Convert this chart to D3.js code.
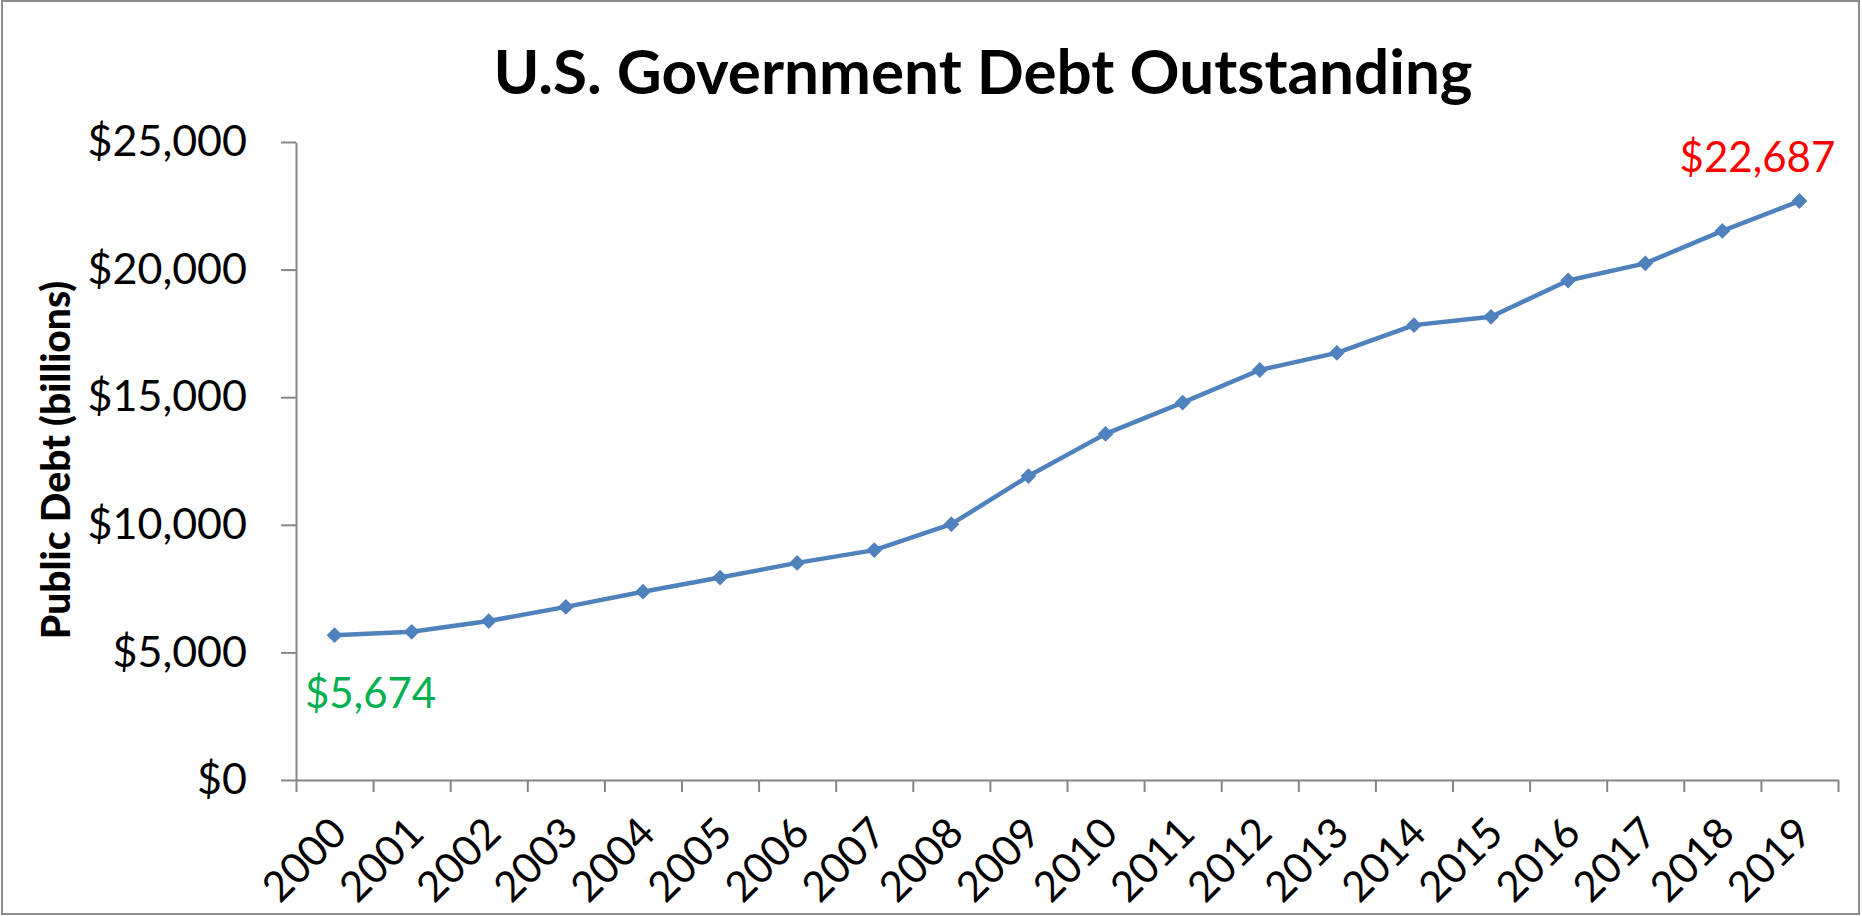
<!DOCTYPE html>
<html>
<head>
<meta charset="utf-8">
<script src="https://cdn.jsdelivr.net/npm/d3@7"></script>
<style>
  body { margin: 0; background: #fff; }
  text { font-family: Lato, "Open Sans", sans-serif; }
</style>
</head>
<body>
<div class="chart"></div>
<script>
let years = ['2000','2001','2002','2003','2004','2005','2006','2007','2008','2009',
             '2010','2011','2012','2013','2014','2015','2016','2017','2018','2019'];
let debt = [5674, 5807, 6228, 6783, 7379, 7933, 8507, 9008, 10025, 11910,
            13562, 14790, 16066, 16738, 17824, 18151, 19573, 20245, 21516, 22687];
let yTicks = [0, 5000, 10000, 15000, 20000, 25000];

let width = 1862;
let height = 916;
let plotLeft = 296, plotRight = 1838, plotTop = 142, plotBottom = 780;

let svg = d3.select('.chart')
            .append('svg')
            .attr('width', width)
            .attr('height', height);

// outer frame
svg.append('rect')
   .attr('x', 2).attr('y', 1)
   .attr('width', width - 5).attr('height', height - 3)
   .attr('fill', '#fff')
   .attr('stroke', '#8c8c8c')
   .attr('stroke-width', 2);

let x = d3.scaleBand().domain(years).range([plotLeft, plotRight]);
let xEdge = d3.scaleLinear().domain([0, years.length]).range([plotLeft, plotRight]);
let y = d3.scaleLinear().domain([0, 25000]).range([plotBottom, plotTop]);
let money = d => '$' + d3.format(',')(d);

svg.append('text')
   .attr('x', 983).attr('y', 94)
   .attr('text-anchor', 'middle')
   .style('font-size', '62px')
   .style('font-weight', 'bold')
   .text('U.S. Government Debt Outstanding');

svg.append('text')
   .attr('transform', 'translate(70,460) rotate(-90)')
   .attr('text-anchor', 'middle')
   .style('font-size', '39px')
   .style('font-weight', '900')
   .text('Public Debt (billions)');

// y axis
let yAxis = svg.append('g')
   .attr('transform', 'translate(' + plotLeft + ',0)')
   .call(d3.axisLeft(y).tickValues(yTicks).tickSize(15).tickSizeOuter(0)
          .tickPadding(34).tickFormat(money));
yAxis.selectAll('text').style('font-size', '43px').attr('fill', '#000');

// x axis, ticks on category edges
let xAxis = svg.append('g')
   .attr('transform', 'translate(0,' + plotBottom + ')')
   .call(d3.axisBottom(xEdge).tickValues(d3.range(years.length + 1))
          .tickSize(12).tickSizeOuter(0).tickFormat(''));

svg.selectAll('.domain, .tick line')
   .attr('stroke', '#868686')
   .attr('stroke-width', 2);

svg.append('g').selectAll('text')
   .data(years)
   .enter()
   .append('text')
   .attr('transform', d => 'translate(' + (x(d) + x.bandwidth() / 2 - 20) + ',870) rotate(-45)')
   .attr('text-anchor', 'middle')
   .style('font-size', '42px')
   .text(d => d);

// series line
let cx = (d, i) => x(years[i]) + x.bandwidth() / 2;
svg.append('path')
   .datum(debt)
   .attr('fill', 'none')
   .attr('stroke', '#4F81BD')
   .attr('stroke-width', 4.5)
   .attr('stroke-linejoin', 'round')
   .attr('d', d3.line().x(cx).y(d => y(d)));

svg.append('g').selectAll('path')
   .data(debt)
   .enter()
   .append('path')
   .attr('d', d3.symbol().type(d3.symbolSquare).size(125))
   .attr('transform', (d, i) => 'translate(' + cx(d, i) + ',' + y(d) + ') rotate(45)')
   .attr('fill', '#4F81BD');

// end labels
let last = debt.length - 1;
svg.append('text')
   .attr('x', cx(debt[0], 0) + 36)
   .attr('y', y(debt[0]) + 73)
   .attr('text-anchor', 'middle')
   .attr('fill', '#00B050')
   .style('font-size', '42px')
   .text(money(debt[0]));
svg.append('text')
   .attr('x', cx(debt[last], last) - 42)
   .attr('y', y(debt[last]) - 29)
   .attr('text-anchor', 'middle')
   .attr('fill', '#FF0000')
   .style('font-size', '42px')
   .text(money(debt[last]));
</script>
</body>
</html>
